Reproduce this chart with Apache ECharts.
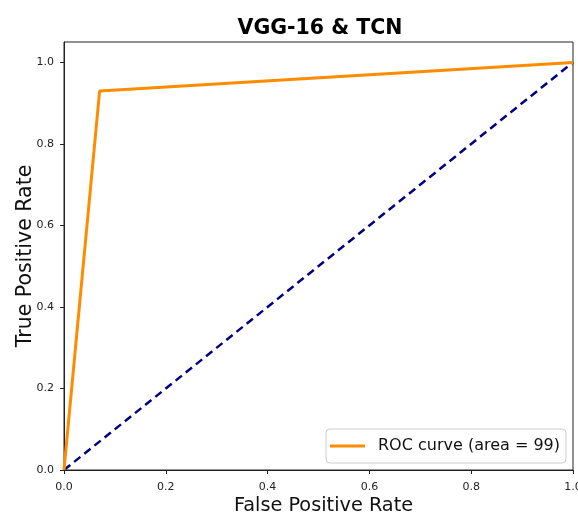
<!DOCTYPE html>
<html>
<head>
<meta charset="utf-8">
<script src="https://cdn.jsdelivr.net/npm/echarts@6/dist/echarts.min.js"></script>
<style>html,body{margin:0;padding:0;background:#fff}#c{width:578px;height:516px}</style>
</head>
<body>
<div id="c"></div>
<script>
// ROC curve points (fpr, tpr)
const rocFpr = [0.0, 0.07, 1.0];
const rocTpr = [0.0, 0.93, 1.0];
// Chance diagonal
const diagX = [0.0, 1.0];
const diagY = [0.0, 1.0];
const tickValues = [0.0, 0.2, 0.4, 0.6, 0.8, 1.0];
const titleText = 'VGG-16 & TCN';
const seriesName = 'ROC curve (area = 99)';
const xName = 'False Positive Rate';
const yName = 'True Positive Rate';

const font = 'DejaVu Sans';
const chart = echarts.init(document.getElementById('c'), null, {renderer: 'canvas'});
const pair = (xs, ys) => xs.map((x, i) => [x, ys[i]]);
chart.setOption({
  animation: false,
  backgroundColor: '#fff',
  textStyle: {fontFamily: font},
  title: {
    text: titleText, left: 315, top: 13, textAlign: 'center',
    textStyle: {fontFamily: font, fontWeight: 'bold', fontSize: 20.5, color: '#000'}
  },
  grid: {left: 64, right: 5, top: 42, bottom: 46, show: true, borderColor: '#222', borderWidth: 1,
         backgroundColor: 'transparent', outerBoundsMode: 'none', containLabel: false},
  legend: {
    data: [seriesName], left: 326, top: 429,
    icon: 'rect', itemWidth: 35, itemHeight: 3,
    padding: [9, 6, 9, 4],
    backgroundColor: '#fff', borderColor: '#ccc', borderWidth: 1, borderRadius: 4,
    textStyle: {fontFamily: font, fontSize: 16, color: '#111', padding: [0, 0, 0, 8]}
  },
  xAxis: {
    type: 'value', min: 0, max: 1, interval: 0.2,
    name: xName, nameLocation: 'middle', nameGap: 26, nameMoveOverlap: false,
    nameTextStyle: {fontFamily: font, fontSize: 19.3, color: '#111', padding: [0, 0, 0, 10]},
    axisLine: {show: true, onZero: false, lineStyle: {color: '#222', width: 1}},
    axisTick: {show: true, inside: false, length: 4, lineStyle: {color: '#222'}, customValues: tickValues},
    axisLabel: {fontFamily: font, fontSize: 11, color: '#222', margin: 12, customValues: tickValues, formatter: v => v.toFixed(1), showMaxLabel: true},
    splitLine: {show: false}
  },
  yAxis: {
    type: 'value', min: 0, max: 1.05,
    name: yName, nameLocation: 'middle', nameGap: 28, nameMoveOverlap: false,
    nameTextStyle: {fontFamily: font, fontSize: 20.5, color: '#111'},
    axisLine: {show: true, onZero: false, lineStyle: {color: '#222', width: 1}},
    axisTick: {show: true, inside: false, length: 4, lineStyle: {color: '#222'}, customValues: tickValues},
    axisLabel: {fontFamily: font, fontSize: 11, color: '#222', margin: 10, customValues: tickValues, formatter: v => v.toFixed(1)},
    splitLine: {show: false}
  },
  series: [
    {
      name: 'chance', type: 'line', data: pair(diagX, diagY), symbol: 'none', silent: true,
      lineStyle: {color: '#000080', width: 2.5, type: [8, 5]}, z: 2
    },
    {
      name: seriesName, type: 'line', data: pair(rocFpr, rocTpr), symbol: 'none',
      lineStyle: {color: '#ff8c00', width: 3}, itemStyle: {color: '#ff8c00'}, z: 3
    }
  ]
});
</script>
</body>
</html>
